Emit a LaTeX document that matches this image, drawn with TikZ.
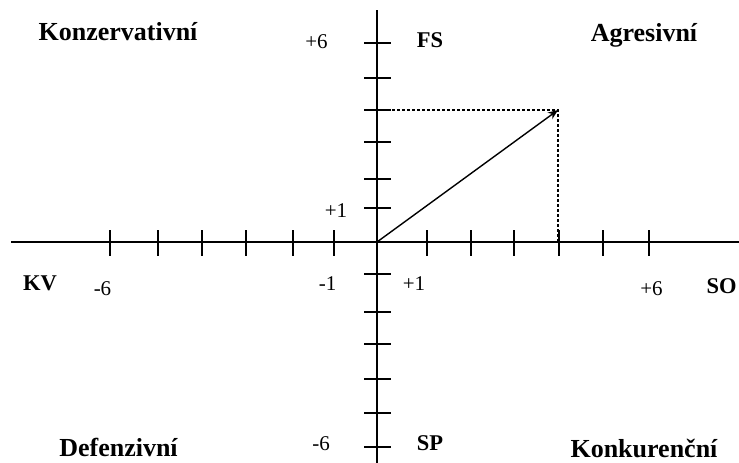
\documentclass[tikz,border=0pt]{standalone}
\usepackage{fontspec}
\setmainfont{Liberation Serif}
\usetikzlibrary{arrows.meta}
\begin{document}
\begin{tikzpicture}[x=1pt,y=-1pt,
  axis/.style={line width=1.5pt,black},
  tick/.style={line width=1.5pt,black},
  guide/.style={line width=1.3pt,dash pattern=on 3pt off 2pt},
  vec/.style={line width=1.4pt,-{Stealth[length=10pt,width=8pt]}},
  quad/.style={anchor=base,inner sep=0pt,text depth=0pt,font=\fontsize{26}{30}\selectfont\bfseries},
  axlab/.style={anchor=base,inner sep=0pt,font=\fontsize{22.5}{26}\selectfont\bfseries},
  num/.style={anchor=base,inner sep=0pt,font=\fontsize{21}{24}\selectfont}]
\useasboundingbox (0,0) rectangle (739,463);
% axes
\coordinate (O) at (377,242);
\coordinate (xl) at (11,242);
\coordinate (xr) at (739,242);
\coordinate (yt) at (377,10);
\coordinate (yb) at (377,463);
\draw[axis] (xl) -- (xr);
\draw[axis] (yt) -- (yb);
% ticks on x axis
\foreach \x in {110,158,202,246,293,334,427,471,514,559,603,649}
  \draw[tick] (\x,230) -- (\x,256);
% ticks on y axis
\foreach \y in {43,78,110,142,179,208,274,312,344,379,413,447}
  \draw[tick] (364,\y) -- (391,\y);
% guides and vector
\coordinate (P) at (558,110);
\coordinate (Py) at (377,110);
\coordinate (Px) at (558,242);
\draw[guide] (Py) -- (P) -- (Px);
\draw[vec] (O) -- (P);
% quadrant labels
\node[quad] (kon) at (118,40) {Konzervativní};
\node[quad] (agr) at (644,41) {Agresivní};
\node[quad] (def) at (118.5,456) {Defenzivní};
\node[quad] (kur) at (644,457) {Konkurenční};
% axis labels
\node[axlab] (fs) at (430,47) {FS};
\node[axlab] (sp) at (430,450) {SP};
\node[axlab] (kv) at (40,290) {KV};
\node[axlab] (so) at (721.5,293) {SO};
% numbers
\node[num] (yp6) at (316.5,48) {+6};
\node[num] (yp1) at (336,217) {+1};
\node[num] (yn6) at (321,450) {-6};
\node[num] (xn6) at (102.5,295) {-6};
\node[num] (xn1) at (327.5,290) {-1};
\node[num] (xp1) at (414,290) {+1};
\node[num] (xp6) at (651.5,295) {+6};
\end{tikzpicture}
\end{document}
